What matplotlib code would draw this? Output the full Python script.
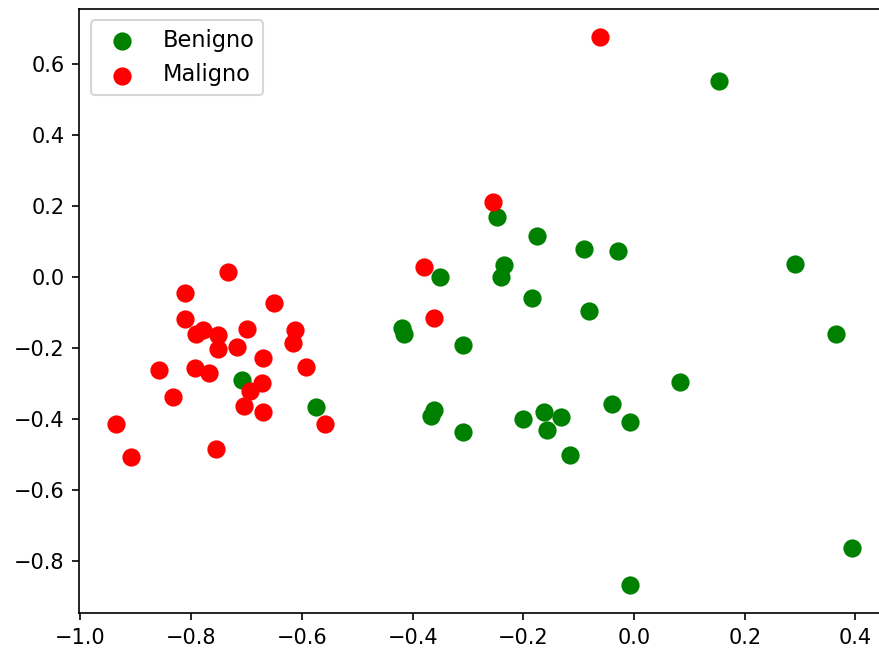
import matplotlib
matplotlib.use("Agg")
import matplotlib.pyplot as plt

# puntos (componentes principales)
benigno_x = [-0.708, -0.575, -0.247, -0.176, -0.090, -0.029, -0.350, -0.235,
             -0.241, -0.185, -0.082, -0.419, -0.415, -0.309, -0.361, -0.366,
             -0.309, -0.200, -0.162, -0.132, -0.158, -0.040, -0.008, -0.115,
             0.154, 0.291, 0.364, 0.083, 0.394, -0.008]
benigno_y = [-0.290, -0.367, 0.170, 0.115, 0.079, 0.074, 0.000, 0.034,
             -0.001, -0.059, -0.096, -0.145, -0.161, -0.193, -0.375, -0.392,
             -0.438, -0.400, -0.381, -0.395, -0.433, -0.359, -0.409, -0.501,
             0.553, 0.037, -0.161, -0.295, -0.764, -0.870]

maligno_x = [-0.734, -0.811, -0.651, -0.811, -0.779, -0.791, -0.752, -0.699,
             -0.613, -0.616, -0.752, -0.717, -0.670, -0.593, -0.859, -0.794,
             -0.767, -0.672, -0.693, -0.832, -0.705, -0.670, -0.558, -0.936,
             -0.755, -0.908, -0.255, -0.380, -0.362, -0.061]
maligno_y = [0.014, -0.046, -0.074, -0.119, -0.149, -0.161, -0.163, -0.146,
             -0.151, -0.185, -0.202, -0.198, -0.229, -0.253, -0.262, -0.257,
             -0.271, -0.300, -0.323, -0.340, -0.363, -0.382, -0.414, -0.414,
             -0.484, -0.507, 0.212, 0.028, -0.115, 0.677]

fig = plt.figure(figsize=(879 / 150, 649 / 150), dpi=150)
ax = fig.add_axes([0.0903, 0.0555, 0.922, 0.9307])

ax.scatter(benigno_x, benigno_y, c="green", s=60, label="Benigno")
ax.scatter(maligno_x, maligno_y, c="red", s=60, label="Maligno")

ax.set_xlim(-1.002, 0.462)
ax.set_ylim(-0.948, 0.756)
ax.legend(loc="upper left", fontsize=10.8)

fig.savefig("out.png", dpi=150)
